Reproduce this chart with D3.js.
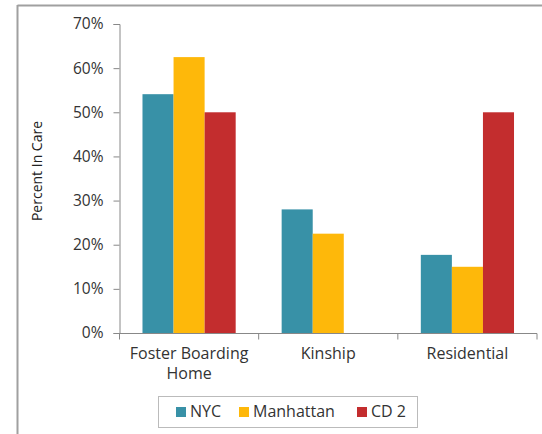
<!DOCTYPE html>
<html><head><meta charset="utf-8">
<script src="https://cdn.jsdelivr.net/npm/d3@7"></script>
<style>body{margin:0;background:#fff}svg{display:block}</style>
</head><body>
<script>
const categories = [["Foster Boarding","Home"],["Kinship"],["Residential"]];
const seriesNames = ["NYC","Manhattan","CD 2"];
const nycValues = [54.1, 28.0, 17.7];
const manhattanValues = [62.5, 22.5, 15.0];
const cd2Values = [50.0, 0, 50.0];
const yTicks = [0,10,20,30,40,50,60,70];
const colors = ["#3891A7","#FEB80A","#C32D2E"];

(function(){
const W=542,H=434;
const svg=d3.select("body").append("svg").attr("width",W).attr("height",H);
const font="'Open Sans', 'Liberation Sans', sans-serif";
// outer frame
svg.append("line").attr("x1",17.5).attr("x2",W).attr("y1",5.5).attr("y2",5.5).attr("stroke","#a0a0a0").attr("stroke-width",2);
svg.append("line").attr("x1",17.5).attr("x2",17.5).attr("y1",5).attr("y2",H).attr("stroke","#a0a0a0").attr("stroke-width",2);

const pl=119.5,pr=537,pt=24,pb=333;
const x=d3.scaleBand().domain(d3.range(categories.length)).range([pl,pr]);
const y=d3.scaleLinear().domain([0,70]).range([pb,pt]);
const inner=d3.scaleBand().domain(d3.range(3)).range([0,x.bandwidth()]).paddingOuter(0.74).paddingInner(0);

const series=[nycValues,manhattanValues,cd2Values];
series.forEach((vals,si)=>{
  svg.append("g").selectAll("rect").data(vals).join("rect")
    .attr("x",(d,i)=>x(i)+inner(si))
    .attr("width",inner.bandwidth())
    .attr("y",d=>y(d))
    .attr("height",d=>y(0)-y(d))
    .attr("fill",colors[si]);
});

// y axis
const ya=svg.append("g").attr("transform",`translate(${pl},0)`)
  .call(d3.axisLeft(y).tickValues(yTicks).tickFormat(d=>d+"%").tickSize(6).tickPadding(10));
ya.select(".domain").attr("stroke","#888");
ya.selectAll(".tick line").attr("stroke","#888");
ya.selectAll("text").attr("font-family",font).attr("font-size",15.5).attr("fill","#333");

// x axis
const xa=svg.append("g").attr("transform",`translate(0,${pb+0.5})`);
xa.append("line").attr("x1",pl).attr("x2",pr).attr("stroke","#888");
const bounds=d3.range(categories.length+1).map(i=>pl+i*x.bandwidth());
xa.selectAll(".tk").data(bounds).join("line").attr("x1",d=>d).attr("x2",d=>d).attr("y1",0).attr("y2",6).attr("stroke","#888");
categories.forEach((lines,i)=>{
  const t=svg.append("text").attr("text-anchor","middle").attr("font-family",font).attr("font-size",16).attr("fill","#333");
  lines.forEach((ln,j)=>t.append("tspan").attr("x",x(i)+x.bandwidth()/2).attr("y",359+j*20).text(ln));
});

// y label
svg.append("text").attr("transform","translate(42,171) rotate(-90)").attr("text-anchor","middle")
  .attr("font-family",font).attr("font-size",14).attr("fill","#222").text("Percent In Care");

// legend
svg.append("rect").attr("x",158.5).attr("y",396.5).attr("width",259).attr("height",31).attr("fill","#fff").attr("stroke","#bbb");
const lx=[176,239,357];
seriesNames.forEach((n,i)=>{
  svg.append("rect").attr("x",lx[i]).attr("y",407).attr("width",10).attr("height",10).attr("fill",colors[i]);
  svg.append("text").attr("x",lx[i]+14).attr("y",417).attr("font-family",font).attr("font-size",16).attr("fill","#333").text(n);
});
})();
</script>
</body></html>
